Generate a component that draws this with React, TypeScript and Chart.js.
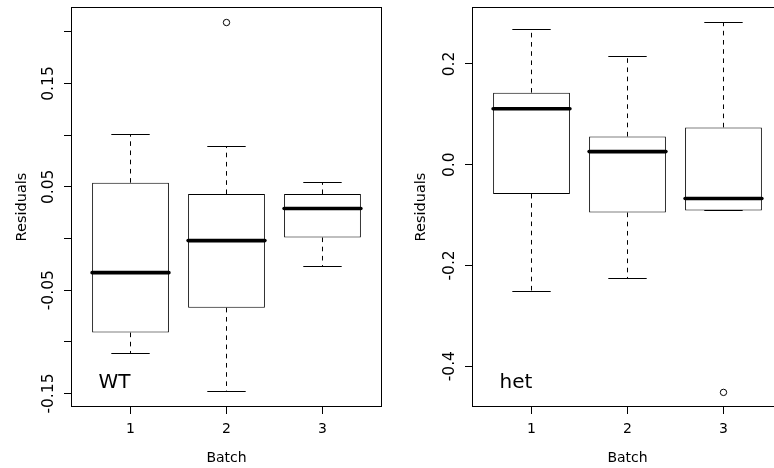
import React, { useEffect, useRef } from 'react';
import { Chart, registerables } from 'chart.js';

Chart.register(...registerables);

// ---------- data ----------
const batches = [1, 2, 3];
const batchLabels = ['1', '2', '3'];

// WT panel
const wtLower = [-0.111, -0.148, -0.027];
const wtQ1 = [-0.091, -0.067, 0.001];
const wtMedian = [-0.033, -0.002, 0.029];
const wtQ3 = [0.054, 0.043, 0.043];
const wtUpper = [0.101, 0.089, 0.054];
const wtOutlierBatch = [2];
const wtOutlierValue = [0.209];
const wtTickValues = [-0.15, -0.1, -0.05, 0, 0.05, 0.1, 0.15, 0.2];
const wtTickLabels = ['-0.15', '', '-0.05', '', '0.05', '', '0.15', ''];

// het panel
const hetLower = [-0.252, -0.225, -0.091];
const hetQ1 = [-0.058, -0.095, -0.091];
const hetMedian = [0.111, 0.026, -0.067];
const hetQ3 = [0.143, 0.056, 0.074];
const hetUpper = [0.268, 0.215, 0.283];
const hetOutlierBatch = [3];
const hetOutlierValue = [-0.452];
const hetTickValues = [-0.4, -0.2, 0, 0.2];
const hetTickLabels = ['-0.4', '-0.2', '0.0', '0.2'];

const xTitle = 'Batch';
const yTitle = 'Residuals';

// ---------- styling ----------
const FAMILY = '"DejaVu Sans"';
const INK = '#000';
const Y_TICK_SIZE = 15.5;
const Y_TITLE_SIZE = 14.5;
const X_TICK_SIZE = 14;
const X_TITLE_SIZE = 14;
const TICK_LEN = 7;

function measureWidest(labels: string[], size: number): number {
  const ctx = document.createElement('canvas').getContext('2d')!;
  ctx.font = `normal ${size}px ${FAMILY}`;
  let w = 0;
  labels.forEach((l) => {
    if (l) w = Math.max(w, ctx.measureText(l).width);
  });
  return w;
}

const boxPlugin = {
  id: 'rbox',
  afterDatasetsDraw(chart: any, _args: any, opts: any) {
    const { ctx } = chart;
    const x = chart.scales.x;
    const y = chart.scales.y;
    const bars = chart.getDatasetMeta(0).data;
    ctx.save();
    ctx.strokeStyle = INK;
    const al = (v: number) => Math.round(v - 0.5) + 0.5;
    batches.forEach((b: number, i: number) => {
      const cx = x.getPixelForValue(b);
      const w = bars[i] ? bars[i].width : 0;
      const pQ1 = y.getPixelForValue(opts.q1[i]);
      const pQ3 = y.getPixelForValue(opts.q3[i]);
      const pLo = y.getPixelForValue(opts.lower[i]);
      const pHi = y.getPixelForValue(opts.upper[i]);
      const pMed = y.getPixelForValue(opts.median[i]);
      // dashed whiskers
      ctx.lineWidth = 1;
      ctx.lineCap = 'butt';
      ctx.setLineDash([4.6, 4.6]);
      ctx.beginPath();
      ctx.moveTo(cx, pQ3);
      ctx.lineTo(cx, pHi);
      ctx.stroke();
      ctx.beginPath();
      ctx.moveTo(cx, pQ1);
      ctx.lineTo(cx, pLo);
      ctx.stroke();
      // staples
      ctx.setLineDash([]);
      ctx.beginPath();
      ctx.moveTo(cx - w / 4, al(pHi));
      ctx.lineTo(cx + w / 4, al(pHi));
      ctx.moveTo(cx - w / 4, al(pLo));
      ctx.lineTo(cx + w / 4, al(pLo));
      ctx.stroke();
      // median
      ctx.lineWidth = 3.6;
      ctx.lineCap = 'round';
      ctx.beginPath();
      ctx.moveTo(cx - w / 2, pMed);
      ctx.lineTo(cx + w / 2, pMed);
      ctx.stroke();
    });
    ctx.restore();
  },
  afterDraw(chart: any, _args: any, opts: any) {
    const { ctx, chartArea } = chart;
    const { left, top, right, bottom } = chartArea;
    ctx.save();
    ctx.strokeStyle = INK;
    ctx.lineWidth = 1;
    ctx.setLineDash([]);
    ctx.strokeRect(left + 0.5, top + 0.5, right - left - 1, bottom - top - 1);
    ctx.fillStyle = INK;
    ctx.font = `normal 20px ${FAMILY}`;
    ctx.textAlign = 'left';
    ctx.textBaseline = 'alphabetic';
    ctx.fillText(opts.label, left + 27.5, bottom - 19.5);
    ctx.restore();
  },
};

interface PanelSpec {
  lower: number[];
  q1: number[];
  median: number[];
  q3: number[];
  upper: number[];
  outBatch: number[];
  outValue: number[];
  tickValues: number[];
  tickLabels: string[];
  yMin: number;
  yMax: number;
  axisWidth: number;
  titleCenter: number;
  label: string;
}

function makeConfig(p: PanelSpec): any {
  const widest = measureWidest(p.tickLabels, Y_TICK_SIZE);
  const yTickPad = 21.8 - TICK_LEN - widest / 2;
  return {
    type: 'bar',
    data: {
      datasets: [
        {
          type: 'bar',
          data: batches.map((b, i) => ({ x: b, y: [p.q1[i], p.q3[i]] })),
          backgroundColor: '#fff',
          borderColor: INK,
          borderWidth: 1,
          borderSkipped: false,
          categoryPercentage: 1,
          barPercentage: 0.8,
        },
        {
          type: 'scatter',
          data: p.outBatch.map((b, i) => ({ x: b, y: p.outValue[i] })),
          showLine: false,
          pointStyle: 'circle',
          pointRadius: 3.2,
          pointBorderWidth: 1,
          pointBorderColor: INK,
          pointBackgroundColor: 'rgba(0,0,0,0)',
        },
      ],
    },
    options: {
      responsive: false,
      animation: false,
      devicePixelRatio: 1,
      layout: { autoPadding: false, padding: { left: 0, top: 7, right: 5, bottom: 0 } },
      plugins: {
        legend: { display: false },
        tooltip: { enabled: false },
        rbox: {
          lower: p.lower,
          q1: p.q1,
          median: p.median,
          q3: p.q3,
          upper: p.upper,
          label: p.label,
        },
      },
      scales: {
        x: {
          type: 'linear',
          min: 0.38,
          max: 3.62,
          bounds: 'data',
          offset: false,
          afterBuildTicks: (s: any) => {
            s.ticks = batches.map((v) => ({ value: v }));
          },
          afterFit: (s: any) => {
            s.height = 61;
            s.paddingLeft = 0;
            s.paddingRight = 0;
          },
          ticks: {
            callback: (_v: any, i: number) => batchLabels[i],
            autoSkip: false,
            minRotation: 0,
            maxRotation: 0,
            padding: 7.2,
            color: INK,
            font: { family: FAMILY, size: X_TICK_SIZE },
          },
          grid: {
            display: true,
            drawOnChartArea: false,
            drawTicks: true,
            tickLength: TICK_LEN,
            color: INK,
            offset: false,
          },
          border: { display: false },
          title: {
            display: true,
            text: xTitle,
            color: INK,
            font: { family: FAMILY, size: X_TITLE_SIZE },
            padding: { top: 0, bottom: 1 },
          },
        },
        y: {
          type: 'linear',
          min: p.yMin,
          max: p.yMax,
          bounds: 'data',
          afterBuildTicks: (s: any) => {
            s.ticks = p.tickValues.map((v) => ({ value: v }));
          },
          afterFit: (s: any) => {
            s.width = p.axisWidth;
            s.paddingTop = 0;
            s.paddingBottom = 0;
          },
          ticks: {
            callback: (_v: any, i: number) => p.tickLabels[i],
            autoSkip: false,
            minRotation: 90,
            maxRotation: 90,
            crossAlign: 'center',
            padding: yTickPad,
            color: INK,
            font: { family: FAMILY, size: Y_TICK_SIZE },
          },
          grid: {
            display: true,
            drawOnChartArea: false,
            drawTicks: true,
            tickLength: TICK_LEN,
            color: INK,
          },
          border: { display: false },
          title: {
            display: true,
            text: yTitle,
            color: INK,
            font: { family: FAMILY, size: Y_TITLE_SIZE },
            padding: { top: p.titleCenter - (Y_TITLE_SIZE * 1.2) / 2, bottom: 0 },
          },
        },
      },
    },
    plugins: [boxPlugin],
  };
}

const wtPanel: PanelSpec = {
  lower: wtLower,
  q1: wtQ1,
  median: wtMedian,
  q3: wtQ3,
  upper: wtUpper,
  outBatch: wtOutlierBatch,
  outValue: wtOutlierValue,
  tickValues: wtTickValues,
  tickLabels: wtTickLabels,
  yMin: -0.163,
  yMax: 0.224,
  axisWidth: 71,
  titleCenter: 22.2,
  label: 'WT',
};

const hetPanel: PanelSpec = {
  lower: hetLower,
  q1: hetQ1,
  median: hetMedian,
  q3: hetQ3,
  upper: hetUpper,
  outBatch: hetOutlierBatch,
  outValue: hetOutlierValue,
  tickValues: hetTickValues,
  tickLabels: hetTickLabels,
  yMin: -0.481,
  yMax: 0.313,
  axisWidth: 85,
  titleCenter: 34.4,
  label: 'het',
};

export default function App() {
  const leftRef = useRef<HTMLCanvasElement>(null);
  const rightRef = useRef<HTMLCanvasElement>(null);
  useEffect(() => {
    const c1 = new Chart(leftRef.current as HTMLCanvasElement, makeConfig(wtPanel));
    const c2 = new Chart(rightRef.current as HTMLCanvasElement, makeConfig(hetPanel));
    return () => {
      c1.destroy();
      c2.destroy();
    };
  }, []);
  return (
    <div
      style={{
        position: 'fixed',
        left: 0,
        top: 0,
        width: 774,
        height: 468,
        overflow: 'hidden',
        background: '#fff',
      }}
    >
      <canvas ref={leftRef} width={387} height={468} style={{ position: 'absolute', left: 0, top: 0 }} />
      <canvas ref={rightRef} width={401} height={468} style={{ position: 'absolute', left: 387, top: 0 }} />
    </div>
  );
}
